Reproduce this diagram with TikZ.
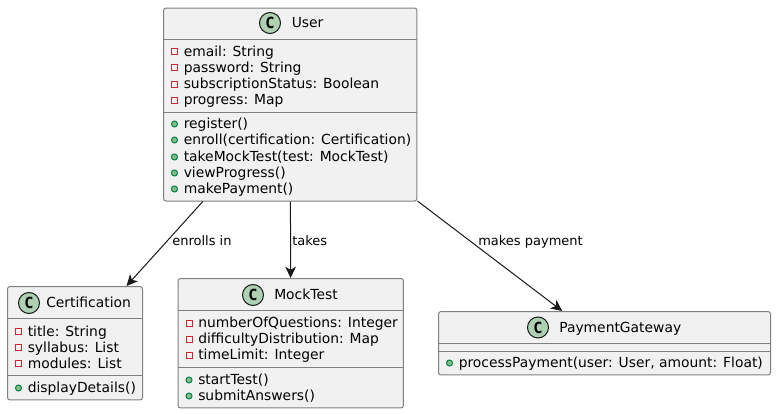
\documentclass[tikz,border=0pt]{standalone}
\usepackage{fontspec}
\setmainfont{DejaVu Sans}
\newfontfamily\spotfont{DejaVu Sans Mono}[BoldFont={DejaVu Sans Mono Bold}]
\usetikzlibrary{arrows.meta}
\definecolor{boxfill}{HTML}{F1F1F1}
\definecolor{boxline}{HTML}{808080}
\definecolor{inkline}{HTML}{181818}
\definecolor{spotfill}{HTML}{ADD1B2}
\definecolor{privred}{HTML}{C82930}
\definecolor{pubfill}{HTML}{84BE84}
\definecolor{publine}{HTML}{038048}
\tikzset{
  classbox/.style={draw=boxline,fill=boxfill,line width=0.75pt,rounded corners=1.9pt,inner sep=0pt},
  divider/.style={draw=boxline,line width=0.75pt},
  spot/.style={circle,draw=inkline,fill=spotfill,line width=0.75pt,minimum size=15.75pt,inner sep=0pt,font=\spotfont\bfseries\fontsize{11.5}{12}\selectfont},
  classtitle/.style={anchor=west,inner sep=0pt,text height=9pt,text depth=1.75pt,font=\fontsize{10.4}{12}\selectfont},
  member/.style={anchor=west,inner sep=0pt,text height=9pt,text depth=1.75pt,font=\fontsize{10.4}{12}\selectfont},
  edgelabel/.style={anchor=west,inner sep=0pt,text height=8.25pt,text depth=1.75pt,font=\fontsize{9.75}{11}\selectfont},
  link/.style={draw=inkline,line width=0.75pt,-{Stealth[length=8.5pt,width=8pt,inset=2.4pt]}}
}
\newcommand{\attrrow}[4]{%
  \draw[privred,line width=0.75pt] (#2+8,#3-3) rectangle (#2+14,#3+3);
  \node[member] (#1) at (#2+20,#3) {#4};}
\newcommand{\operrow}[4]{%
  \draw[publine,fill=pubfill,line width=0.75pt] (#2+11,#3) circle [radius=2.25pt];
  \node[member] (#1) at (#2+20,#3) {#4};}
\begin{document}
\begin{tikzpicture}[x=0.75pt,y=0.75pt,yscale=-1]
  \path[use as bounding box] (0,0) rectangle (776,414);

  %Class boxes
  \node[classbox,minimum width=190.1pt,minimum height=144.75pt] (user) at (290.25,104.5) {};
  \node[classbox,minimum width=101.25pt,minimum height=85.1pt] (certification) at (75,343.25) {};
  \node[classbox,minimum width=169.1pt,minimum height=97.1pt] (mocktest) at (290.75,343.25) {};
  \node[classbox,minimum width=249pt,minimum height=47.6pt] (gateway) at (604.5,343.25) {};

  %Connectors
  \draw[link] (user) -- (certification);
  \draw[link] (user) -- (mocktest);
  \draw[link] (user) -- (gateway);
  \node[edgelabel] (enrollslabel) at (172,241) {enrolls in};
  \node[edgelabel] (takeslabel) at (292,241) {takes};
  \node[edgelabel] (paymentlabel) at (478,241) {makes payment};

  %User
  \node[spot] (userspot) at (270,23) {C};
  \node[classtitle] (usertitle) at (291.5,23) {User};
  \draw[divider] (163.5,39.5) -- (417,39.5);
  \draw[divider] (163.5,112.5) -- (417,112.5);
  \attrrow{useremail}{163.5}{51.5}{email: String}
  \attrrow{userpassword}{163.5}{67.5}{password: String}
  \attrrow{userstatus}{163.5}{84}{subscriptionStatus: Boolean}
  \attrrow{userprogress}{163.5}{100}{progress: Map}
  \operrow{userregister}{163.5}{124}{register()}
  \operrow{userenroll}{163.5}{140}{enroll(certification: Certification)}
  \operrow{usertake}{163.5}{157}{takeMockTest(test: MockTest)}
  \operrow{userview}{163.5}{173}{viewProgress()}
  \operrow{usermake}{163.5}{189}{makePayment()}

  %Certification
  \node[spot] (certificationspot) at (29,303) {C};
  \node[classtitle] (certificationtitle) at (46,303) {Certification};
  \draw[divider] (7.5,318.5) -- (142.5,318.5);
  \draw[divider] (7.5,375.5) -- (142.5,375.5);
  \attrrow{certtitle}{7.5}{331.5}{title: String}
  \attrrow{certsyllabus}{7.5}{347.5}{syllabus: List}
  \attrrow{certmodules}{7.5}{363.5}{modules: List}
  \operrow{certdisplay}{7.5}{388}{displayDetails()}

  %MockTest
  \node[spot] (mocktestspot) at (253,295) {C};
  \node[classtitle] (mocktesttitle) at (274,295) {MockTest};
  \draw[divider] (178,310.5) -- (403.5,310.5);
  \draw[divider] (178,367.5) -- (403.5,367.5);
  \attrrow{mocknumber}{178}{323}{numberOfQuestions: Integer}
  \attrrow{mockdifficulty}{178}{339}{difficultyDistribution: Map}
  \attrrow{mocklimit}{178}{355}{timeLimit: Integer}
  \operrow{mockstart}{178}{380}{startTest()}
  \operrow{mocksubmit}{178}{396}{submitAnswers()}

  %PaymentGateway
  \node[spot] (gatewayspot) at (538,327.5) {C};
  \node[classtitle] (gatewaytitle) at (559,327.5) {PaymentGateway};
  \draw[divider] (438.5,343.5) -- (770.5,343.5);
  \draw[divider] (438.5,351.5) -- (770.5,351.5);
  \operrow{gatewayprocess}{438.5}{363}{processPayment(user: User, amount: Float)}
\end{tikzpicture}
\end{document}
